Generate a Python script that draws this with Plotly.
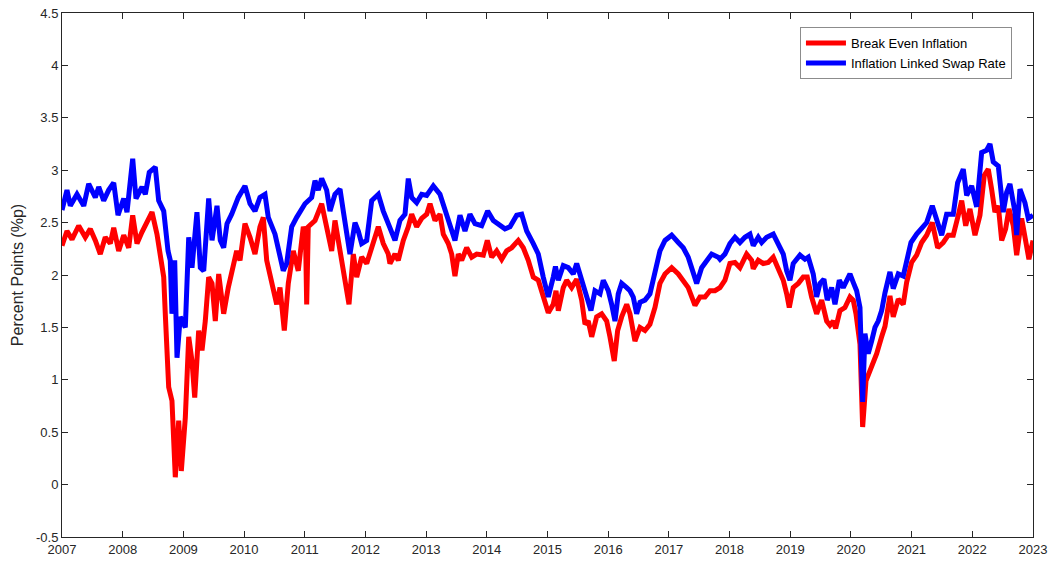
import plotly.graph_objects as go

# Break-even inflation (decimal year, percent points)
bei_year = [
    2007.000, 2007.082, 2007.165, 2007.275, 2007.384, 2007.466, 2007.549, 2007.631, 2007.713, 2007.796,
    2007.852, 2007.934, 2008.017, 2008.099, 2008.165, 2008.236, 2008.318, 2008.401, 2008.483, 2008.565,
    2008.620, 2008.676, 2008.702, 2008.758, 2008.812, 2008.867, 2008.923, 2008.966, 2009.032, 2009.088,
    2009.142, 2009.187, 2009.252, 2009.307, 2009.361, 2009.417, 2009.472, 2009.526, 2009.582, 2009.664,
    2009.740, 2009.796, 2009.878, 2009.933, 2010.015, 2010.098, 2010.180, 2010.262, 2010.317, 2010.373,
    2010.455, 2010.538, 2010.592, 2010.663, 2010.729, 2010.811, 2010.893, 2010.976, 2011.012, 2011.032,
    2011.058, 2011.169, 2011.279, 2011.361, 2011.444, 2011.498, 2011.581, 2011.651, 2011.729, 2011.800,
    2011.856, 2011.938, 2012.021, 2012.103, 2012.212, 2012.294, 2012.376, 2012.404, 2012.487, 2012.541,
    2012.624, 2012.706, 2012.762, 2012.844, 2012.927, 2013.009, 2013.064, 2013.146, 2013.228, 2013.283,
    2013.365, 2013.421, 2013.475, 2013.530, 2013.586, 2013.668, 2013.751, 2013.833, 2013.942, 2014.008,
    2014.080, 2014.162, 2014.245, 2014.327, 2014.410, 2014.518, 2014.601, 2014.683, 2014.766, 2014.848,
    2014.930, 2015.013, 2015.095, 2015.140, 2015.178, 2015.260, 2015.316, 2015.398, 2015.481, 2015.563,
    2015.618, 2015.672, 2015.728, 2015.810, 2015.893, 2015.975, 2016.029, 2016.100, 2016.156, 2016.222,
    2016.305, 2016.359, 2016.441, 2016.524, 2016.606, 2016.688, 2016.771, 2016.853, 2016.936, 2017.046,
    2017.155, 2017.237, 2017.319, 2017.430, 2017.512, 2017.595, 2017.677, 2017.759, 2017.842, 2017.924,
    2018.006, 2018.089, 2018.171, 2018.281, 2018.364, 2018.390, 2018.473, 2018.555, 2018.637, 2018.720,
    2018.802, 2018.885, 2018.941, 2018.984, 2019.049, 2019.132, 2019.214, 2019.280, 2019.352, 2019.435,
    2019.517, 2019.600, 2019.654, 2019.709, 2019.748, 2019.819, 2019.901, 2019.984, 2020.038, 2020.083,
    2020.149, 2020.193, 2020.248, 2020.314, 2020.368, 2020.424, 2020.506, 2020.561, 2020.643, 2020.697,
    2020.780, 2020.862, 2020.918, 2021.000, 2021.083, 2021.165, 2021.248, 2021.340, 2021.429, 2021.521,
    2021.604, 2021.686, 2021.769, 2021.825, 2021.891, 2021.961, 2022.044, 2022.126, 2022.197, 2022.263,
    2022.318, 2022.373, 2022.428, 2022.484, 2022.549, 2022.604, 2022.675, 2022.731, 2022.813, 2022.867,
    2022.933, 2023.000]
bei_value = [
    2.28, 2.42, 2.34, 2.47, 2.36, 2.44, 2.33, 2.20, 2.36, 2.30,
    2.45, 2.23, 2.38, 2.26, 2.57, 2.30, 2.41, 2.52, 2.60, 2.39,
    2.17, 1.98, 1.63, 0.93, 0.80, 0.07, 0.61, 0.13, 0.64, 1.41,
    1.18, 0.83, 1.47, 1.28, 1.56, 1.98, 1.92, 1.56, 2.01, 1.63,
    1.88, 2.04, 2.23, 2.14, 2.49, 2.36, 2.20, 2.46, 2.55, 2.14,
    1.95, 1.72, 1.88, 1.47, 1.92, 2.23, 2.04, 2.46, 2.40, 1.72,
    2.46, 2.52, 2.68, 2.46, 2.23, 2.52, 2.23, 1.95, 1.72, 2.20,
    1.98, 2.17, 2.11, 2.26, 2.46, 2.30, 2.20, 2.11, 2.20, 2.14,
    2.33, 2.46, 2.58, 2.46, 2.54, 2.58, 2.68, 2.52, 2.58, 2.39,
    2.30, 2.20, 1.99, 2.20, 2.14, 2.26, 2.17, 2.20, 2.19, 2.33,
    2.17, 2.23, 2.15, 2.23, 2.26, 2.33, 2.26, 2.14, 1.98, 1.95,
    1.79, 1.64, 1.72, 1.85, 1.66, 1.88, 1.95, 1.88, 1.96, 1.76,
    1.53, 1.56, 1.41, 1.60, 1.63, 1.56, 1.41, 1.18, 1.47, 1.60,
    1.72, 1.63, 1.37, 1.50, 1.47, 1.53, 1.69, 1.92, 2.01, 2.07,
    2.01, 1.95, 1.88, 1.71, 1.79, 1.79, 1.85, 1.85, 1.88, 1.95,
    2.11, 2.12, 2.07, 2.20, 2.14, 2.06, 2.14, 2.11, 2.12, 2.17,
    2.07, 1.95, 1.82, 1.69, 1.88, 1.92, 1.98, 1.98, 1.79, 1.63,
    1.76, 1.56, 1.52, 1.56, 1.49, 1.66, 1.69, 1.79, 1.76, 1.63,
    1.34, 0.55, 0.99, 1.09, 1.15, 1.25, 1.41, 1.51, 1.80, 1.60,
    1.77, 1.72, 1.93, 2.12, 2.19, 2.31, 2.38, 2.50, 2.26, 2.31,
    2.38, 2.38, 2.57, 2.71, 2.47, 2.63, 2.38, 2.57, 2.95, 3.01,
    2.82, 2.60, 2.66, 2.33, 2.44, 2.63, 2.47, 2.19, 2.54, 2.38,
    2.15, 2.33]

# Inflation-linked swap rate (decimal year, percent points)
ils_year = [
    2007.000, 2007.082, 2007.137, 2007.247, 2007.358, 2007.440, 2007.549, 2007.605, 2007.687, 2007.769,
    2007.852, 2007.923, 2008.017, 2008.071, 2008.165, 2008.219, 2008.318, 2008.373, 2008.438, 2008.537,
    2008.593, 2008.676, 2008.747, 2008.784, 2008.812, 2008.857, 2008.895, 2008.949, 2009.032, 2009.088,
    2009.142, 2009.224, 2009.279, 2009.335, 2009.417, 2009.472, 2009.554, 2009.608, 2009.664, 2009.719,
    2009.796, 2009.905, 2010.015, 2010.098, 2010.180, 2010.262, 2010.345, 2010.399, 2010.510, 2010.592,
    2010.646, 2010.702, 2010.785, 2010.867, 2011.004, 2011.114, 2011.169, 2011.223, 2011.279, 2011.361,
    2011.416, 2011.498, 2011.581, 2011.635, 2011.691, 2011.745, 2011.828, 2011.882, 2011.938, 2012.021,
    2012.103, 2012.212, 2012.294, 2012.376, 2012.487, 2012.569, 2012.652, 2012.706, 2012.762, 2012.844,
    2012.927, 2013.009, 2013.118, 2013.228, 2013.311, 2013.393, 2013.475, 2013.558, 2013.640, 2013.722,
    2013.805, 2013.915, 2014.014, 2014.107, 2014.217, 2014.299, 2014.382, 2014.492, 2014.574, 2014.657,
    2014.766, 2014.848, 2014.930, 2015.013, 2015.095, 2015.131, 2015.178, 2015.260, 2015.343, 2015.425,
    2015.481, 2015.563, 2015.646, 2015.716, 2015.782, 2015.865, 2015.919, 2016.001, 2016.057, 2016.112,
    2016.166, 2016.222, 2016.305, 2016.359, 2016.413, 2016.469, 2016.524, 2016.606, 2016.688, 2016.771,
    2016.853, 2016.936, 2017.046, 2017.155, 2017.237, 2017.319, 2017.402, 2017.458, 2017.540, 2017.623,
    2017.705, 2017.814, 2017.842, 2017.924, 2018.006, 2018.089, 2018.171, 2018.253, 2018.336, 2018.390,
    2018.473, 2018.529, 2018.611, 2018.720, 2018.802, 2018.885, 2018.941, 2018.995, 2019.049, 2019.160,
    2019.242, 2019.297, 2019.379, 2019.435, 2019.489, 2019.555, 2019.610, 2019.682, 2019.737, 2019.808,
    2019.873, 2019.984, 2020.038, 2020.094, 2020.149, 2020.193, 2020.231, 2020.285, 2020.341, 2020.396,
    2020.450, 2020.506, 2020.561, 2020.643, 2020.697, 2020.780, 2020.862, 2020.918, 2020.989, 2021.083,
    2021.165, 2021.248, 2021.340, 2021.413, 2021.495, 2021.577, 2021.686, 2021.758, 2021.851, 2021.907,
    2021.989, 2022.072, 2022.154, 2022.236, 2022.291, 2022.345, 2022.428, 2022.510, 2022.566, 2022.620,
    2022.703, 2022.731, 2022.785, 2022.867, 2022.922, 2023.000]
ils_value = [
    2.62, 2.81, 2.66, 2.77, 2.66, 2.87, 2.74, 2.84, 2.71, 2.81,
    2.88, 2.57, 2.73, 2.60, 3.11, 2.73, 2.84, 2.77, 2.98, 3.03,
    2.71, 2.61, 2.23, 2.14, 1.63, 2.14, 1.21, 1.60, 1.50, 2.36,
    2.07, 2.60, 2.07, 2.04, 2.73, 2.33, 2.66, 2.33, 2.26, 2.49,
    2.58, 2.74, 2.85, 2.68, 2.61, 2.74, 2.77, 2.55, 2.39, 2.20,
    2.04, 2.11, 2.46, 2.55, 2.68, 2.74, 2.90, 2.81, 2.92, 2.81,
    2.61, 2.77, 2.82, 2.61, 2.36, 2.20, 2.50, 2.42, 2.30, 2.33,
    2.71, 2.77, 2.61, 2.49, 2.33, 2.52, 2.58, 2.92, 2.74, 2.69,
    2.77, 2.76, 2.85, 2.77, 2.61, 2.49, 2.33, 2.57, 2.42, 2.58,
    2.49, 2.47, 2.61, 2.52, 2.47, 2.44, 2.46, 2.57, 2.58, 2.42,
    2.30, 2.20, 1.98, 1.79, 1.98, 2.08, 1.95, 2.09, 2.07, 2.01,
    2.11, 1.95, 1.79, 1.66, 1.85, 1.82, 1.95, 1.85, 1.72, 1.56,
    1.82, 1.92, 1.88, 1.85, 1.79, 1.63, 1.74, 1.76, 1.82, 2.01,
    2.23, 2.33, 2.38, 2.31, 2.26, 2.17, 2.04, 1.92, 2.07, 2.14,
    2.20, 2.17, 2.15, 2.20, 2.30, 2.36, 2.31, 2.36, 2.39, 2.28,
    2.36, 2.31, 2.36, 2.39, 2.30, 2.20, 2.04, 1.95, 2.11, 2.19,
    2.15, 2.17, 2.01, 1.79, 1.92, 1.96, 1.76, 1.88, 1.72, 1.95,
    1.88, 2.01, 1.93, 1.85, 1.69, 0.79, 1.44, 1.25, 1.37, 1.50,
    1.56, 1.66, 1.83, 2.03, 1.87, 2.01, 1.99, 2.15, 2.31, 2.39,
    2.44, 2.50, 2.66, 2.54, 2.38, 2.58, 2.58, 2.88, 3.01, 2.76,
    2.85, 2.65, 3.17, 3.19, 3.25, 3.08, 3.04, 2.60, 2.79, 2.87,
    2.60, 2.38, 2.82, 2.69, 2.54, 2.57]

year_ticks = list(range(2007, 2024))
value_ticks = [-0.5, 0, 0.5, 1, 1.5, 2, 2.5, 3, 3.5, 4, 4.5]
value_labels = ["-0.5", "0", "0.5", "1", "1.5", "2", "2.5", "3", "3.5", "4", "4.5"]

AXIS = "#262626"
FONT = "Liberation Sans, Arial, sans-serif"

fig = go.Figure()
fig.add_trace(go.Scatter(x=bei_year, y=bei_value, mode="lines", name="Break Even Inflation",
                         line=dict(color="#FF0000", width=5)))
fig.add_trace(go.Scatter(x=ils_year, y=ils_value, mode="lines", name="Inflation Linked Swap Rate",
                         line=dict(color="#0000FF", width=5)))

axis_common = dict(showgrid=False, zeroline=False, showline=True, linecolor=AXIS, linewidth=1,
                   mirror="ticks", ticks="inside", ticklen=6, tickcolor=AXIS, tickwidth=1,
                   automargin=False, tickfont=dict(family=FONT, size=13, color=AXIS))

fig.update_layout(
    width=1052, height=564,
    margin=dict(l=62, r=19, t=13, b=27),
    paper_bgcolor="white", plot_bgcolor="white",
    font=dict(family=FONT, color=AXIS),
    xaxis=dict(range=[2007, 2023], tickvals=year_ticks, ticktext=[str(y) for y in year_ticks], **axis_common),
    yaxis=dict(range=[-0.5, 4.5], tickvals=value_ticks, ticktext=value_labels,
               title=dict(text="Percent Points (%p)", font=dict(family=FONT, size=16, color=AXIS), standoff=8),
               **axis_common),
    legend=dict(x=0.760, y=0.973, xanchor="left", yanchor="top", bgcolor="white",
                bordercolor="#8c8c8c", borderwidth=1, font=dict(family=FONT, size=13, color="#000000"),
                tracegroupgap=0, itemwidth=40),
    showlegend=True,
)

fig.write_html("out.html")
